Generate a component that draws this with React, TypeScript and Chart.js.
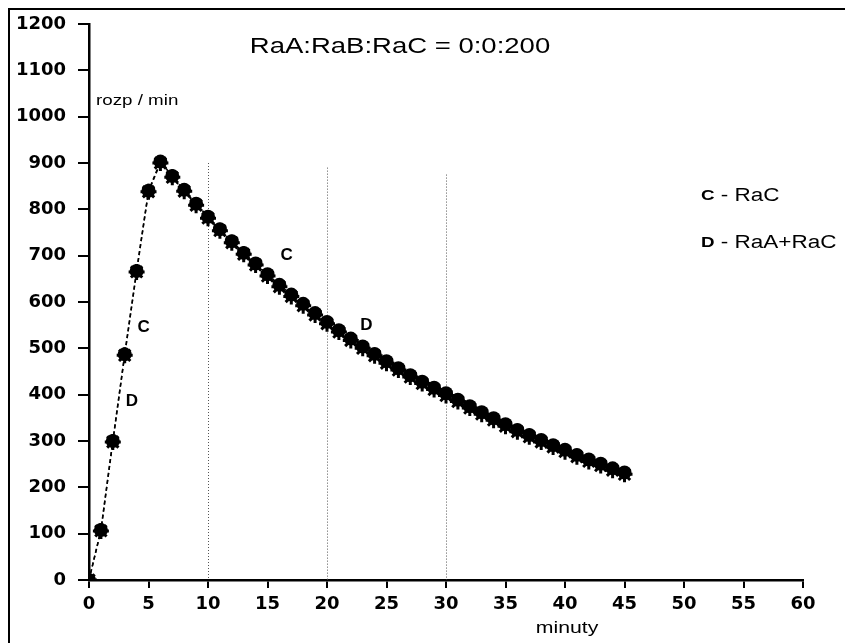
import React, { useEffect, useRef } from "react";
import { Chart, registerables } from "chart.js";

Chart.register(...registerables);

const minutes = [
  0, 1, 2, 3, 4, 5, 6, 7, 8, 9, 10, 11, 12, 13, 14, 15, 16, 17, 18, 19, 20, 21, 22,
  23, 24, 25, 26, 27, 28, 29, 30, 31, 32, 33, 34, 35, 36, 37, 38, 39, 40, 41, 42, 43,
  44, 45,
];
const seriesC = [
  0, 108, 300, 487, 667, 840, 903, 872, 842, 812, 784, 757, 731, 706, 683, 660, 637,
  616, 596, 576, 557, 539, 521, 504, 488, 472, 457, 442, 428, 415, 403, 389, 375, 362,
  349, 336, 324, 313, 302, 291, 281, 270, 260, 251, 241, 232,
];
const seriesD = [
  0, 106, 298, 485, 665, 838, 900, 869, 839, 809, 781, 754, 728, 703, 680, 656, 633,
  612, 592, 572, 553, 535, 517, 500, 484, 468, 453, 438, 424, 411, 398, 385, 371, 358,
  345, 332, 320, 309, 298, 287, 277, 266, 256, 247, 237, 228,
];
const gridMinutes = [10, 20, 30];
const gridTops = [900, 890, 875];

const title = "RaA:RaB:RaC = 0:0:200";
const yAxisTitle = "rozp / min";
const xAxisTitle = "minuty";
const legendLines = [
  { key: "C", text: " - RaC" },
  { key: "D", text: " - RaA+RaC" },
];
const curveLabels = [
  { t: "C", x: 16.6, y: 700 },
  { t: "C", x: 4.6, y: 545 },
  { t: "D", x: 3.6, y: 385 },
  { t: "D", x: 23.3, y: 550 },
];

const FONT = "'Liberation Sans', Arial, sans-serif";
const TICKFONT = "'DejaVu Sans', sans-serif";
const SX = 1.25;

function stretchText(ctx: any, text: string, x: number, y: number, align: string, font: string) {
  ctx.save();
  ctx.font = font;
  const w = ctx.measureText(text).width * SX;
  let left = x;
  if (align === "center") left = x - w / 2;
  else if (align === "right") left = x - w;
  ctx.translate(left, y);
  ctx.scale(SX, 1);
  ctx.textAlign = "left";
  ctx.fillText(text, 0, 0);
  ctx.restore();
  return w;
}

export default function App() {
  const ref = useRef<HTMLCanvasElement>(null);
  useEffect(() => {
    if (!ref.current) return;
    const decor = {
      id: "decor",
      beforeDatasetsDraw(chart: any) {
        const ctx = chart.ctx;
        const xs = chart.scales.x;
        const ys = chart.scales.y;
        ctx.save();
        ctx.strokeStyle = "#555";
        ctx.lineWidth = 1;
        ctx.setLineDash([1, 2]);
        gridMinutes.forEach((m, i) => {
          const px = Math.round(xs.getPixelForValue(m)) + 0.5;
          ctx.beginPath();
          ctx.moveTo(px, ys.getPixelForValue(gridTops[i]));
          ctx.lineTo(px, ys.getPixelForValue(0));
          ctx.stroke();
        });
        ctx.restore();
      },
      afterDraw(chart: any) {
        const ctx = chart.ctx;
        const xs = chart.scales.x;
        const ys = chart.scales.y;
        ctx.save();
        ctx.strokeStyle = "#000";
        ctx.lineWidth = 2;
        ctx.setLineDash([]);
        ctx.beginPath();
        ctx.moveTo(9, 643);
        ctx.lineTo(9, 9);
        ctx.lineTo(845, 9);
        ctx.stroke();

        ctx.fillStyle = "#000";
        ctx.textBaseline = "middle";
        stretchText(ctx, title, 400, 47, "center", `22px ${FONT}`);
        stretchText(ctx, yAxisTitle, 96, 101, "left", `15px ${FONT}`);
        stretchText(ctx, xAxisTitle, 567, 628, "center", `17px ${FONT}`);

        legendLines.forEach((l, i) => {
          const y = 196 + i * 47;
          const w = stretchText(ctx, l.key, 701, y, "left", `bold 15px ${FONT}`);
          stretchText(ctx, l.text, 701 + w, y, "left", `18px ${FONT}`);
        });

        ctx.textAlign = "center";
        ctx.font = `bold 17px ${FONT}`;
        curveLabels.forEach((c) => {
          ctx.fillText(c.t, xs.getPixelForValue(c.x), ys.getPixelForValue(c.y));
        });
        ctx.restore();
      },
    };
    const chart = new Chart(ref.current, {
      type: "line",
      data: {
        datasets: [
          {
            label: "D",
            data: minutes.map((m, i) => ({ x: m, y: seriesD[i] })),
            borderColor: "#000",
            backgroundColor: "#000",
            borderWidth: 1.5,
            borderDash: [4, 3],
            pointStyle: "star",
            pointRadius: 8,
            pointBorderWidth: 3,
            pointBorderColor: "#000",
            pointBackgroundColor: "#000",
            tension: 0,
          },
          {
            label: "C",
            data: minutes.map((m, i) => ({ x: m, y: seriesC[i] })),
            borderColor: "#000",
            backgroundColor: "#000",
            borderWidth: 1.5,
            borderDash: [4, 3],
            pointStyle: "circle",
            pointRadius: 7,
            pointBorderWidth: 0,
            pointBackgroundColor: "#000",
            tension: 0,
          },
        ],
      },
      options: {
        animation: false,
        responsive: false,
        maintainAspectRatio: false,
        layout: { padding: { left: 0, right: 42, top: 24, bottom: 0 } },
        plugins: {
          legend: { display: false },
          tooltip: { enabled: false },
          title: { display: false },
        },
        scales: {
          x: {
            type: "linear",
            min: 0,
            max: 60,
            border: { display: true, color: "#000", width: 2.5 },
            grid: {
              drawOnChartArea: false,
              drawTicks: true,
              tickLength: 8,
              color: "#000",
              lineWidth: 2,
            },
            ticks: {
              stepSize: 5,
              color: "#000",
              font: { family: TICKFONT, size: 18, weight: "bold" },
              padding: 6,
              maxRotation: 0,
              callback: (v: any) => String(v),
            },
            afterFit(scale: any) {
              scale.height = 63;
            },
          },
          y: {
            type: "linear",
            min: 0,
            max: 1200,
            border: { display: true, color: "#000", width: 2.5 },
            grid: {
              drawOnChartArea: false,
              drawTicks: true,
              tickLength: 11,
              color: "#000",
              lineWidth: 2,
            },
            ticks: {
              stepSize: 100,
              color: "#000",
              font: { family: TICKFONT, size: 18, weight: "bold" },
              padding: 12,
              callback: (v: any) => String(v),
            },
            afterFit(scale: any) {
              scale.width = 89;
            },
          },
        },
      },
      plugins: [decor],
    });
    return () => chart.destroy();
  }, []);
  return (
    <div style={{ position: "fixed", left: 0, top: 0, width: 845, height: 643, background: "#fff" }}>
      <canvas ref={ref} width={845} height={643} style={{ display: "block" }} />
    </div>
  );
}
